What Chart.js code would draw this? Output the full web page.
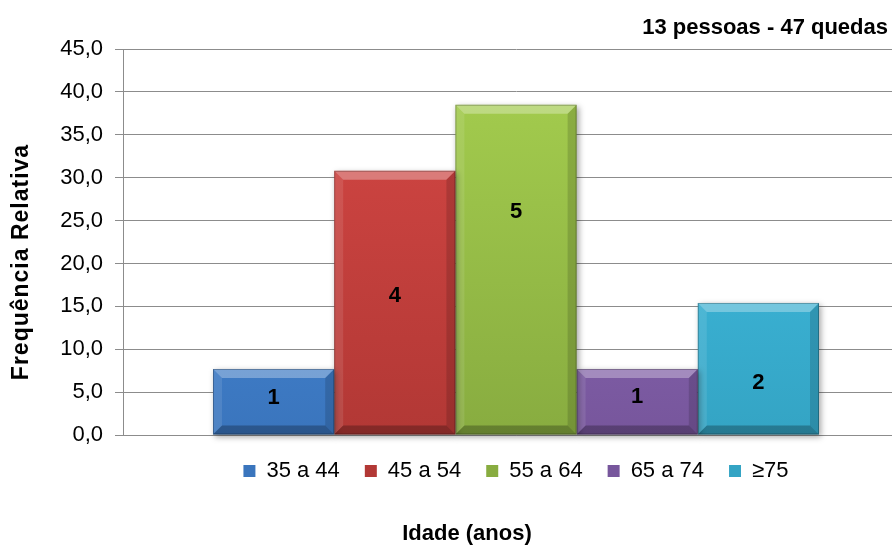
<!DOCTYPE html>
<html>
<head>
<meta charset="utf-8">
<script src="https://cdn.jsdelivr.net/npm/chart.js@4/dist/chart.umd.min.js"></script>
<style>
  html, body { margin: 0; padding: 0; background: #fff; overflow: hidden; }
  #wrap { width: 892px; height: 545px; overflow: hidden; position: relative; }
  canvas { display: block; }
</style>
</head>
<body>
<div id="wrap"><canvas id="chart" width="912" height="545"></canvas></div>
<script>
// Age groups (one bar each), relative frequency (%) and number of people per group
const ageGroups = ['35 a 44', '45 a 54', '55 a 64', '65 a 74', '≥75'];
const relFrequency = [7.7, 30.8, 38.5, 7.7, 15.4];
const personCounts = [1, 4, 5, 1, 2];
const yTickValues = [0, 5, 10, 15, 20, 25, 30, 35, 40, 45];

const summaryNote = '13 pessoas - 47 quedas';
const yTitle = 'Frequência Relativa';
const xTitle = 'Idade (anos)';

// Bar shading: lighter towards the top of the plot, deeper at the base
const shadeTop = ['#4C90E2', '#D64845', '#A6CF4F', '#9270C0', '#42C3E8'];
const shadeBase = ['#3A75BD', '#B23835', '#88AC40', '#77569C', '#34A4C4'];
const FONT = '"Liberation Sans", Arial, sans-serif';

function barFill(i) {
  return (ctx) => {
    const chart = ctx.chart;
    const area = chart.chartArea;
    if (!area) return shadeBase[i];
    const g = chart.ctx.createLinearGradient(0, area.top, 0, area.bottom);
    g.addColorStop(0, shadeTop[i]);
    g.addColorStop(1, shadeBase[i]);
    return g;
  };
}

// Soft drop shadow behind the bars, bevelled faces and the count labels
const bevelBars = {
  id: 'bevelBars',
  beforeDatasetsDraw(chart) {
    const ctx = chart.ctx;
    ctx.save();
    ctx.shadowColor = 'rgba(0,0,0,0.35)';
    ctx.shadowBlur = 6;
    ctx.shadowOffsetX = 2;
    ctx.shadowOffsetY = 2;
  },
  afterDatasetsDraw(chart, args, opts) {
    const ctx = chart.ctx;
    ctx.restore();
    const yScale = chart.scales.y;
    chart.data.datasets.forEach((ds, i) => {
      const bar = chart.getDatasetMeta(i).data[0];
      if (!bar) return;
      const l = bar.x - bar.width / 2, r = bar.x + bar.width / 2;
      const t = bar.y, b = bar.base;
      const k = Math.min(opts.size, (b - t) / 2);
      const face = (pts, color) => {
        ctx.beginPath();
        ctx.moveTo(pts[0][0], pts[0][1]);
        for (let j = 1; j < pts.length; j++) ctx.lineTo(pts[j][0], pts[j][1]);
        ctx.closePath();
        ctx.fillStyle = color;
        ctx.fill();
      };
      ctx.save();
      face([[l, t], [r, t], [r - k, t + k], [l + k, t + k]], 'rgba(255,255,255,0.30)');
      face([[l, t], [l + k, t + k], [l + k, b - k], [l, b]], 'rgba(255,255,255,0.10)');
      face([[r, t], [r, b], [r - k, b - k], [r - k, t + k]], 'rgba(0,0,0,0.14)');
      face([[l, b], [l + k, b - k], [r - k, b - k], [r, b]], 'rgba(0,0,0,0.26)');
      ctx.strokeStyle = 'rgba(0,0,0,0.25)';
      ctx.lineWidth = 1;
      ctx.strokeRect(l + 0.5, t + 0.5, r - l - 1, b - t - 1);
      // count label
      ctx.fillStyle = '#000';
      ctx.font = 'bold 22px ' + FONT;
      ctx.textAlign = 'center';
      ctx.textBaseline = 'middle';
      ctx.fillText(String(personCounts[i]), bar.x, yScale.getPixelForValue(opts.labelLevels[i]));
      ctx.restore();
    });
  }
};

// Legend centred under the plot area; summary note and axis titles
const captions = {
  id: 'captions',
  afterLayout(chart) {
    const lg = chart.legend, a = chart.chartArea;
    if (lg) { lg.left = a.left; lg.right = a.right; lg.width = a.right - a.left; }
  },
  afterDraw(chart, args, opts) {
    const ctx = chart.ctx;
    ctx.save();
    ctx.fillStyle = '#000';
    ctx.font = 'bold 22px ' + FONT;
    ctx.textBaseline = 'middle';
    ctx.textAlign = 'right';
    ctx.fillText(summaryNote, opts.noteX, opts.noteY);
    ctx.textAlign = 'center';
    ctx.fillText(xTitle, opts.xTitleX, opts.xTitleY);
    ctx.translate(opts.yTitleX, opts.yTitleY);
    ctx.rotate(-Math.PI / 2);
    ctx.font = 'bold 23px ' + FONT;
    if ('letterSpacing' in ctx) ctx.letterSpacing = '1px';
    ctx.fillText(yTitle, 0, 0);
    ctx.restore();
  }
};

new Chart(document.getElementById('chart'), {
  type: 'bar',
  data: {
    labels: [''],
    datasets: ageGroups.map((g, i) => ({
      label: g,
      data: [relFrequency[i]],
      backgroundColor: barFill(i),
      borderWidth: 0,
      categoryPercentage: 0.771,
      barPercentage: 1.0,
      clip: false
    }))
  },
  options: {
    responsive: false,
    animation: false,
    devicePixelRatio: 1,
    layout: { padding: { top: 49, right: 3, bottom: 53, left: 0 } },
    scales: {
      x: {
        grid: { display: false, drawTicks: false },
        border: { display: true, color: '#8c8c8c', width: 1 },
        ticks: { display: false }
      },
      y: {
        min: 0,
        max: 45,
        afterFit(scale) { scale.width = 123; },
        afterBuildTicks(scale) { scale.ticks = yTickValues.map(v => ({ value: v })); },
        grid: { color: '#8c8c8c', lineWidth: 1, drawTicks: true, tickLength: 8, tickColor: '#8c8c8c' },
        border: { display: true, color: '#8c8c8c', width: 1 },
        ticks: {
          color: '#000',
          padding: 12,
          font: { family: FONT, size: 22 },
          callback: v => Number(v).toFixed(1).replace('.', ',')
        }
      }
    },
    plugins: {
      legend: {
        position: 'bottom',
        labels: {
          boxWidth: 12,
          boxHeight: 12,
          padding: 25,
          color: '#000',
          font: { family: FONT, size: 22 }
        }
      },
      tooltip: { enabled: false },
      bevelBars: { size: 9, labelLevels: [4.3, 16.2, 26.0, 4.4, 6.1] },
      captions: { noteX: 888, noteY: 28, xTitleX: 467, xTitleY: 534, yTitleX: 22, yTitleY: 262 }
    }
  },
  plugins: [bevelBars, captions]
});
</script>
</body>
</html>
